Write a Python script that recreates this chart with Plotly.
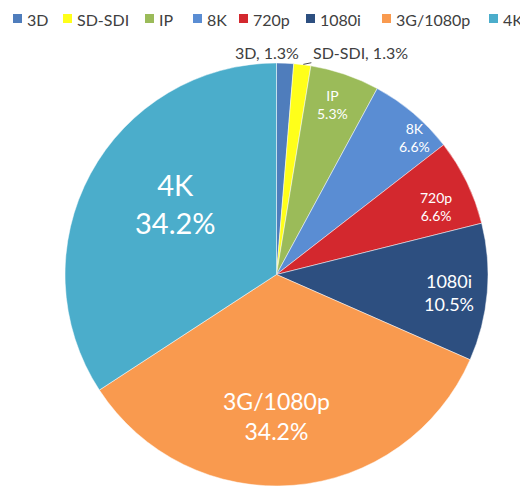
import math
import plotly.graph_objects as go

# slice shares (%), clockwise from 12 o'clock
labels = ["3D", "SD-SDI", "IP", "8K", "720p", "1080i", "3G/1080p", "4K"]
shares = [1.3, 1.3, 5.3, 6.6, 6.6, 10.5, 34.2, 34.2]
colors = ["#4F7DBC", "#FFFF1A", "#9BBB59", "#5A8DD3", "#D3282E", "#2D4F80", "#F99A4F", "#4BADCB"]

# label styling / placement (fraction along the slice, fraction of radius)
label_size = [16, 16, 14, 14, 14, 18, 23, 29]
label_frac = [0.5, 0.5, 0.47, 0.7, 0.62, 0.525, 0.538, 0.555]
label_rad = [1, 1, 0.845, 0.92, 0.82, 0.82, 0.667, 0.585]

# the page body has an 8px margin, so the figure is drawn 8px in from the window
OFF = 8
W, H = 520, 486


def px(x):
    return (x - OFF) / W


def py(y):
    return 1 - (y - OFF) / H


dom_x = [px(65), px(488)]
dom_y = [py(486), py(63)]

fig = go.Figure(go.Pie(
    labels=labels,
    values=shares,
    sort=False,
    direction="clockwise",
    rotation=0,
    marker=dict(colors=colors, line=dict(color="rgba(255,255,255,0.6)", width=0.8)),
    textinfo="none",
    showlegend=False,
    hoverinfo="label+percent",
    domain=dict(x=dom_x, y=dom_y),
))

# centre and radius of the pie in figure pixels
cx = (dom_x[0] + dom_x[1]) / 2 * W
cy = (1 - (dom_y[0] + dom_y[1]) / 2) * H
r = min((dom_x[1] - dom_x[0]) * W, (dom_y[1] - dom_y[0]) * H) / 2
total = sum(shares)


def slice_point(i, frac, rad):
    start = sum(shares[:i])
    ang = (start + frac * shares[i]) / total * 2 * math.pi
    x = cx + rad * r * math.sin(ang)
    y = cy - rad * r * math.cos(ang)
    return x / W, 1 - y / H


annotations = []

# two thin slices at the top get outside labels
x0, y0 = slice_point(0, 0.5, 1)
annotations.append(dict(
    x=x0, y=y0, xref="paper", yref="paper",
    text="%s, %.1f%%" % (labels[0], shares[0]),
    showarrow=False, xanchor="center", yanchor="middle",
    xshift=-18, yshift=11,
    font=dict(family="Lato", size=label_size[0], color="#404040"),
))
x1, y1 = slice_point(1, 0.5, 1)
annotations.append(dict(
    x=x1, y=y1, xref="paper", yref="paper",
    text="%s, %.1f%%" % (labels[1], shares[1]),
    showarrow=True, arrowhead=0, arrowwidth=1, arrowcolor="#505050",
    ax=58, ay=-12, standoff=1,
    font=dict(family="Lato", size=label_size[1], color="#404040"),
))

# inside labels
for i in range(2, len(labels)):
    lx, ly = slice_point(i, label_frac[i], label_rad[i])
    annotations.append(dict(
        x=lx, y=ly, xref="paper", yref="paper",
        text="%s<br>%.1f%%" % (labels[i], shares[i]),
        showarrow=False, xanchor="center", yanchor="middle", align="center",
        font=dict(family="Lato", size=label_size[i], color="white"),
    ))

# legend row along the top
legend_x = [13, 63, 145, 193, 239, 306, 382, 489]
shapes = []
for lx, lab, col in zip(legend_x, labels, colors):
    shapes.append(dict(
        type="rect", xref="paper", yref="paper",
        x0=px(lx), x1=px(lx + 9), y0=py(23), y1=py(14),
        fillcolor=col, line=dict(width=0),
    ))
    annotations.append(dict(
        x=px(lx + 12), y=py(19.5), xref="paper", yref="paper",
        text=lab, showarrow=False, xanchor="left", yanchor="middle",
        font=dict(family="Lato", size=16, color="#404040"),
    ))

fig.update_layout(
    width=W, height=H,
    margin=dict(l=0, r=0, t=0, b=0),
    paper_bgcolor="white",
    plot_bgcolor="white",
    annotations=annotations,
    shapes=shapes,
)

# no scrollbar: the figure runs to the window's right and bottom edges
fig.write_html("out.html", post_script="document.body.style.overflow = 'hidden';")
